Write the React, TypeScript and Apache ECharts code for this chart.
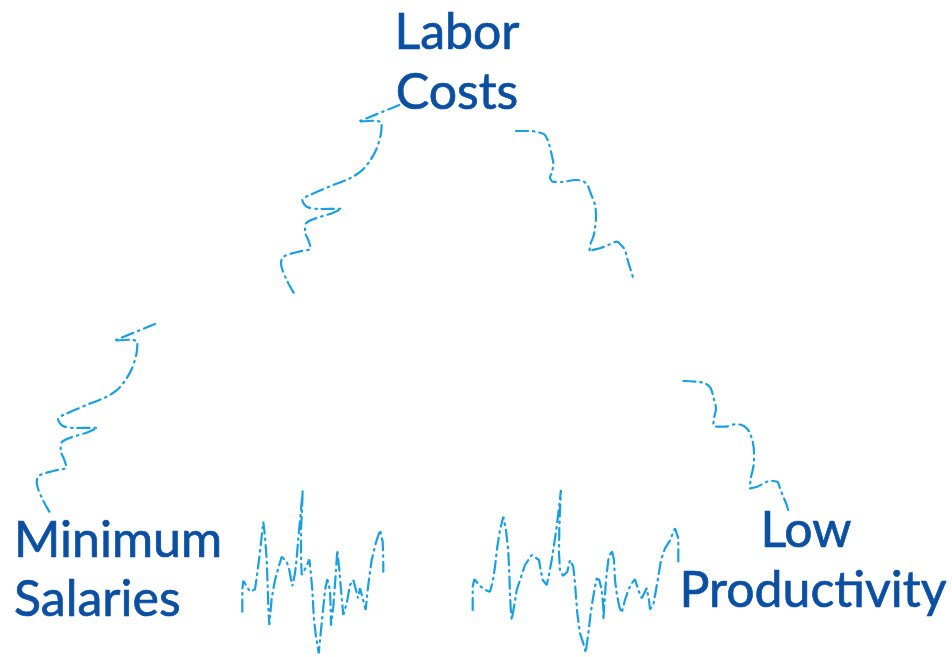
import React, { useEffect, useRef } from "react";
import * as echarts from "echarts";

// Connector squiggles (x, y in picture units)
const laborToMinimum: number[][] = [
  [399.3, 105], [358.3, 121.7], [375, 120.7], [381.7, 123.3], [380.7, 135], [376, 150],
  [370, 160.7], [361.7, 170.7], [350, 178.3], [335, 184.3], [310, 195], [302.3, 200],
  [306.7, 206.7], [320, 209], [341.7, 208.7], [333.3, 212.7], [306, 223.3], [305, 231.7],
  [308.3, 240], [310.7, 248.3], [298.3, 251.7], [283.3, 256.7], [281, 263.3], [286.7, 280], [295, 295],
];
const minimumToLabor: number[][] = [
  [155, 324], [114, 340.7], [130.7, 339.7], [137.4, 342.3], [136.4, 354], [131.7, 369],
  [125.7, 379.7], [117.4, 389.7], [105.7, 397.3], [90.7, 403.3], [65.7, 414], [58, 419],
  [62.4, 425.7], [75.7, 428], [97.4, 427.7], [89, 431.7], [61.7, 442.3], [60.7, 450.7],
  [64, 459], [66.4, 467.3], [54, 470.7], [39, 475.7], [36.7, 482.3], [42.4, 499], [50.7, 514],
];
const laborToProductivity: number[][] = [
  [516, 131], [530, 131], [538.3, 132.3], [545, 135], [549.3, 145], [551.7, 155],
  [553.3, 163.3], [551.7, 173.3], [550, 176.7], [552.7, 181.7], [561.7, 182], [575, 180],
  [582.7, 181], [587.3, 185], [590.7, 193.3], [595, 205], [596, 216.7], [595, 228.3],
  [593.3, 236.7], [590.7, 243.3], [589.3, 251.7], [592.7, 250], [600, 248.3], [608.3, 245],
  [616.7, 241.7], [620, 244], [625, 250], [626.7, 256.7], [630.7, 270], [633.3, 278.3],
];
const productivityApproach: number[][] = [
  [683.3, 381], [696.7, 381.7], [705, 383.3], [710.7, 388.3], [713.3, 396.7], [715, 403.3],
  [716, 408.3], [714, 418.3], [713.3, 425], [716.7, 426.7], [725, 426.7], [735, 424.3],
  [741.7, 425], [746.7, 428.3], [750, 433.3], [752.7, 441.7], [754, 451.7], [754, 461.7],
  [752.7, 470], [750.7, 478.3], [750, 488.3], [757.3, 486.7], [770, 481], [777.3, 481.7],
  [780, 488.3], [783.3, 496.7], [786.7, 505], [788.3, 510.7],
];
const noiseLeft: number[][] = [
  [242.3, 611.7], [242.3, 590], [243.3, 580.7], [250, 591.7], [255, 589.3], [257.3, 573.3],
  [260, 551.7], [263.3, 521.7], [265, 536.7], [266.7, 560], [267.7, 586.7], [268.3, 606.7],
  [269.3, 625], [271.7, 598.3], [275, 580], [278.3, 568.3], [281.7, 556.7], [286.7, 561.7],
  [289.3, 570], [292.3, 586], [295, 573.3], [296.7, 558.3], [298.3, 538.3], [300.7, 513.3],
  [302.7, 490], [302, 510], [301, 530], [301, 556.7], [301.7, 575], [306, 567.3],
  [309.3, 559.3], [310.7, 571.7], [312.3, 590], [314, 620], [316, 636.7], [318.7, 653.3],
  [320.7, 633.3], [322.7, 613.3], [325, 590], [327.3, 579.3], [330, 590], [330.7, 610],
  [331, 625.7], [333.3, 606.7], [335.3, 580], [337.3, 550], [339.3, 570], [341, 590],
  [343.3, 615], [346.7, 603.3], [350, 585], [353.3, 580], [356, 590], [358, 598.3],
  [360, 588.3], [362.7, 598.3], [365.7, 610], [367.3, 593.3], [369.3, 576.7], [371.7, 560],
  [375.7, 543.3], [380, 530], [382.7, 541.7], [383.3, 560], [383.3, 571.7],
];
const noiseRight: number[][] = [
  [472.7, 610], [472.7, 586.7], [474.3, 579.3], [480, 586], [485, 590], [490, 591.7],
  [492.7, 581.7], [495, 566.7], [497.3, 546.7], [500, 530], [503.3, 516.7], [506, 530],
  [508.3, 551.7], [509.3, 573.3], [510, 593.3], [510.7, 608.3], [511.7, 620], [514, 606.7],
  [516.7, 590], [520, 580], [525, 565], [531.7, 555], [539, 560], [540.7, 570],
  [542.7, 580], [546.7, 585], [549.3, 573.3], [551.7, 560], [554, 545], [556.7, 526.7],
  [558.7, 510], [561, 490], [560, 510], [559.3, 530], [559, 553.3], [560, 571.7],
  [563.3, 575.7], [567.3, 571.7], [570, 560], [573.3, 566.7], [575, 583.3], [576, 596.7],
  [577.3, 613.3], [580, 633.3], [583.3, 643.3], [585.7, 652.7], [588.3, 633.3], [590.7, 613.3],
  [592.7, 600], [595, 586.7], [596.7, 578.3], [599.3, 580], [601.7, 590], [603.3, 606.7],
  [603.3, 620], [606, 580], [608.3, 560], [611.7, 550], [614, 560], [615, 580],
  [616.7, 593.3], [619.3, 606.7], [621.7, 612.7], [625, 600], [628.3, 590], [631.7, 583.3],
  [635, 579.3], [638.3, 590], [641.7, 598.3], [646.7, 588.3], [649, 600], [650, 609.3],
  [653.3, 605], [656, 590], [658.3, 576.7], [661, 560], [665, 548.3], [669.3, 541.7],
  [675, 528.3], [678.3, 538.3], [678.3, 560], [678.3, 565],
];

const labelLines = ["Labor", "Costs", "Minimum", "Salaries", "Low", "Productivity"];

const LINE = "#1a9fe0";
const TEXT = "#0b4fa3";

export default function App() {
  const ref = useRef<HTMLDivElement>(null);
  useEffect(() => {
    if (!ref.current) return;
    const chart = echarts.init(ref.current, undefined, { renderer: "svg" });
    const mk = (data: number[][], smooth: number | boolean) => ({
      type: "line",
      data,
      showSymbol: false,
      smooth,
      silent: true,
      lineStyle: { color: LINE, width: 2.2, type: [12, 5, 1.5, 5], cap: "round" },
    });
    const font = "50px Lato";
    const txt = (text: string, x: number, y: number, align: string) => ({
      type: "text",
      x,
      y,
      style: {
        text,
        font,
        fill: TEXT,
        stroke: TEXT,
        lineWidth: 0.7,
        textAlign: align,
        textVerticalAlign: "middle",
      },
    });
    chart.setOption({
      animation: false,
      backgroundColor: "#ffffff",
      grid: { left: 0, right: 0, top: 0, bottom: 0 },
      xAxis: { type: "value", min: 0, max: 952, show: false },
      yAxis: { type: "value", min: 0, max: 657, inverse: true, show: false },
      series: [
        mk(laborToMinimum, 0.3),
        mk(minimumToLabor, 0.3),
        mk(laborToProductivity, 0.3),
        mk(productivityApproach, 0.3),
        mk(noiseLeft, false),
        mk(noiseRight, false),
      ],
      graphic: [
        txt(labelLines[0], 457, 30, "center"),
        txt(labelLines[1], 457, 90, "center"),
        txt(labelLines[2], 14, 538, "left"),
        txt(labelLines[3], 14, 597, "left"),
        txt(labelLines[4], 806, 528, "center"),
        txt(labelLines[5], 813, 588, "center"),
      ],
    });
    return () => chart.dispose();
  }, []);
  return (
    <div
      ref={ref}
      style={{ position: "fixed", left: 0, top: 0, width: 952, height: 657, background: "#fff" }}
    />
  );
}
